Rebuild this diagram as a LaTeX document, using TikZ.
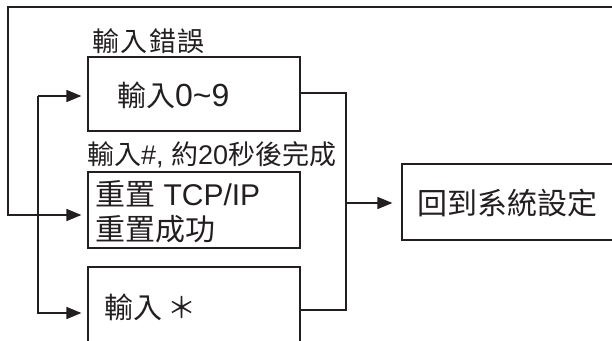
\documentclass[tikz,border=0pt]{standalone}
\usepackage{fontspec}
\setmainfont{Liberation Sans}
\newfontfamily\cjk{Noto Sans CJK TC}
\usetikzlibrary{arrows.meta}
\definecolor{ink}{RGB}{35,31,32}
\begin{document}
\begin{tikzpicture}[x=1pt,y=-1pt,
  box/.style={draw=ink, line width=1.2pt, inner sep=0pt, minimum width=212pt},
  txt/.style={anchor=west, inner sep=0pt, text=ink},
  wire/.style={draw=ink, line width=1.3pt},
  arr/.style={draw=ink, line width=1.6pt, -{Triangle[length=15pt,width=12pt]}, shorten >=6pt}
]
\useasboundingbox (0,0) rectangle (612,340);
\clip (0,0) rectangle (612,340);
% boxes
\node[box, minimum height=74pt] (b1) at (194,94) {};
\node[box, minimum height=76pt] (b2) at (194,210) {};
\node[box, minimum height=92pt] (b3) at (194,313) {};
\node[box, minimum width=240pt, minimum height=76pt] (b4) at (522,202) {};
% texts
\node[txt, font=\fontsize{27}{32}\selectfont] (l1) at (92,41) {{\cjk 輸\hspace{1.5pt}入\hspace{1.5pt}錯\hspace{1.5pt}誤}};
\node[txt, font=\fontsize{29}{34}\selectfont] (t1) at (117,95) {{\cjk 輸入}{\fontsize{32}{36}\selectfont 0\textasciitilde9}};
\node[txt, font=\fontsize{27}{32}\selectfont] (l2) at (87,155) {{\cjk 輸入}\#, {\cjk 約}20{\cjk 秒後完成}};
\node[txt, align=left, font=\fontsize{30}{35}\selectfont] (t2) at (95,212) {{\cjk 重置} TCP/IP\\{\cjk 重置成功}};
\node[txt, font=\fontsize{29}{34}\selectfont] (t3) at (104,307) {{\cjk 輸入}\,{\cjk ＊}};
\node[txt, font=\fontsize{30}{35}\selectfont] (t4) at (417,203) {{\cjk 回到系統設定}};
% connectors
\coordinate (loopR) at (612,7);
\coordinate (loopL) at (8,7);
\draw[arr] (loopR) -- (loopL) |- ([yshift=-5pt]b2.west);
\coordinate (jl) at (38,96);
\draw[arr] (jl) -- (b1.west |- jl);
\draw[arr] (jl) |- (b3.west);
\coordinate (jr) at (346,203);
\draw[wire] ([yshift=1pt]b1.east) -| (jr) |- ([yshift=3pt]b3.east);
\draw[arr, shorten >=9pt] (jr) -- (b4.west |- jr);
\end{tikzpicture}
\end{document}
